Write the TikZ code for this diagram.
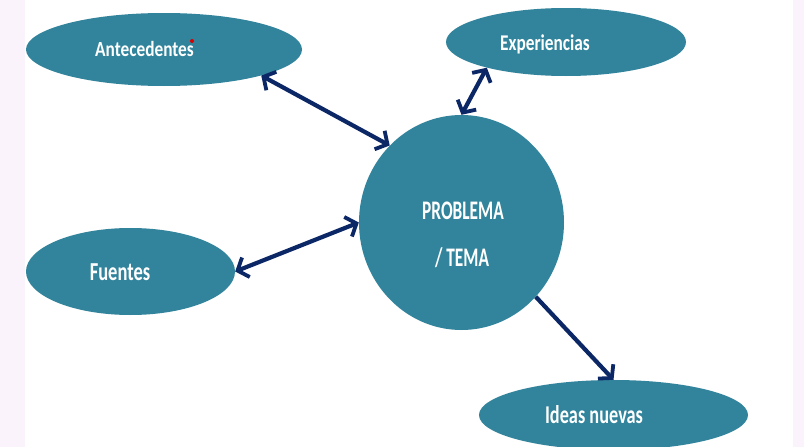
\documentclass[tikz,border=0pt]{standalone}
\usepackage{fontspec}
\setmainfont{Carlito}
\usetikzlibrary{shapes.geometric,arrows.meta}
\definecolor{tealfill}{HTML}{31849B}
\definecolor{navyline}{HTML}{0C2766}
\definecolor{pinkbg}{HTML}{FBF3FB}
\newcommand{\stretchtxt}[3]{{\fontsize{#1}{#1}\selectfont\bfseries\scalebox{1}[#2]{#3}}}
\tikzset{barbtip/.tip={Straight Barb[length=9pt,width=21pt,line width=3.8pt]}}
\begin{document}
\begin{tikzpicture}[x=1pt,y=-1pt,
  blob/.style={ellipse, fill=tealfill, draw=none, inner sep=0pt},
  lbl/.style={text=white, inner sep=0pt, anchor=base},
  twoway/.style={draw=navyline, line width=4.2pt, arrows={barbtip-barbtip}},
  oneway/.style={draw=navyline, line width=4.2pt, arrows={-barbtip}}]
\useasboundingbox (0,0) rectangle (804,447);
\fill[white] (0,0) rectangle (804,447);
\fill[pinkbg] (0,0) rectangle (25,447);
\fill[pinkbg] (793,0) rectangle (804,447);
% shapes
\node[blob, minimum width=276pt, minimum height=73pt] (ante) at (164,49.5) {};
\node[blob, minimum width=240pt, minimum height=68pt] (expe) at (566,42) {};
\node[blob, minimum width=209pt, minimum height=87pt] (fuen) at (130.5,271.5) {};
\node[blob, minimum width=269pt, minimum height=70pt] (idea) at (613.5,415) {};
\node[blob, minimum width=205pt, minimum height=215pt] (prob) at (461.5,222.5) {};
% texts
\node[lbl] (anteT) at (144.5,56.7) {\stretchtxt{17.3}{1.25}{Antecedentes}};
\node[lbl] (expeT) at (545,50.7) {\stretchtxt{17.3}{1.3}{Experiencias}};
\node[lbl] (fuenT) at (120,280) {\stretchtxt{18.5}{1.4}{Fuentes}};
\node[lbl] (probT) at (463,219.3) {\stretchtxt{17.3}{1.55}{PROBLEMA}};
\node[lbl] (temaT) at (462,266.7) {\stretchtxt{17.3}{1.55}{/ TEMA}};
\node[lbl] (ideaT) at (594,423.3) {\stretchtxt{18.3}{1.4}{Ideas nuevas}};
% red dot
\fill[red!85!black] (192,41) circle (2pt);
% connectors
\draw[twoway] (ante.-15.5) -- (prob.133.5);
\draw[twoway] (expe.-162.8) -- (prob.90);
\draw[twoway] (fuen.east) -- (prob.west);
\draw[oneway] (prob.-45.8) -- (idea.north);
\end{tikzpicture}
\end{document}
